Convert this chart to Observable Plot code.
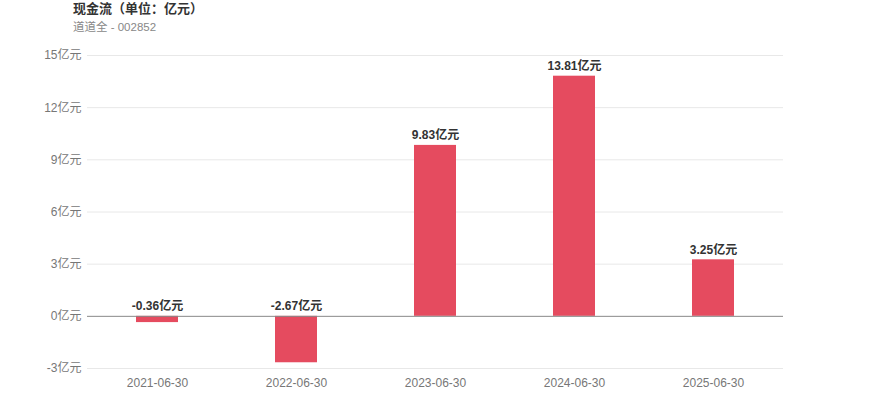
<!DOCTYPE html>
<html><head><meta charset="utf-8">
<script src="https://cdn.jsdelivr.net/npm/d3@7"></script>
<script src="https://cdn.jsdelivr.net/npm/@observablehq/plot@0.6"></script>
<style>
body{margin:0;background:#fff;font-family:"Liberation Sans","Noto Sans CJK SC",sans-serif;}
#wrap{position:relative;width:870px;height:417px;}
#title{position:absolute;left:73px;top:0px;font-size:13px;font-weight:bold;color:#333;line-height:18px;}
#sub{position:absolute;left:73px;top:19px;font-size:11.5px;color:#888;line-height:16px;}
#chart{position:absolute;left:0;top:40px;}
</style></head>
<body><div id="wrap"><div id="title">现金流（单位：亿元）</div><div id="sub">道道全 - 002852</div><div id="chart"></div></div>
<script>
const dates = ["2021-06-30","2022-06-30","2023-06-30","2024-06-30","2025-06-30"];
const values = [-0.36,-2.67,9.83,13.81,3.25];
const yTicks = [-3,0,3,6,9,12,15];
const unit = "亿元";
const data = dates.map((d,i)=>({date:d,value:values[i]}));
const chart = Plot.plot({
  width:870, height:377,
  marginTop:15, marginBottom:49, marginLeft:87, marginRight:87,
  style:{fontFamily:'"Liberation Sans","Noto Sans CJK SC",sans-serif',fontSize:"12px",background:"#fff"},
  x:{domain:dates, paddingInner:0.7, paddingOuter:0.35, label:null, tickSize:0, tickPadding:10},
  y:{domain:[-3,15], ticks:yTicks, tickFormat:d=>d+unit, label:null, tickSize:0, tickPadding:6},
  marks:[
    Plot.ruleY(yTicks.filter(t=>t!==0),{stroke:"#e8e8e8",strokeWidth:1}),
    Plot.barY(data,{x:"date",y:"value",fill:"#e54b5f"}),
    Plot.ruleY([0],{stroke:"#888",strokeWidth:1}),
    Plot.text(data,{x:"date",y:d=>Math.max(d.value,0),text:d=>d.value.toFixed(2)+unit,dy:-10,fontWeight:"bold",fill:"#333",fontSize:12})
  ]
});
chart.querySelectorAll('g[aria-label="x-axis tick label"], g[aria-label="y-axis tick label"]').forEach(g=>g.setAttribute("fill","#777"));
document.getElementById("chart").appendChild(chart);
</script></body></html>
